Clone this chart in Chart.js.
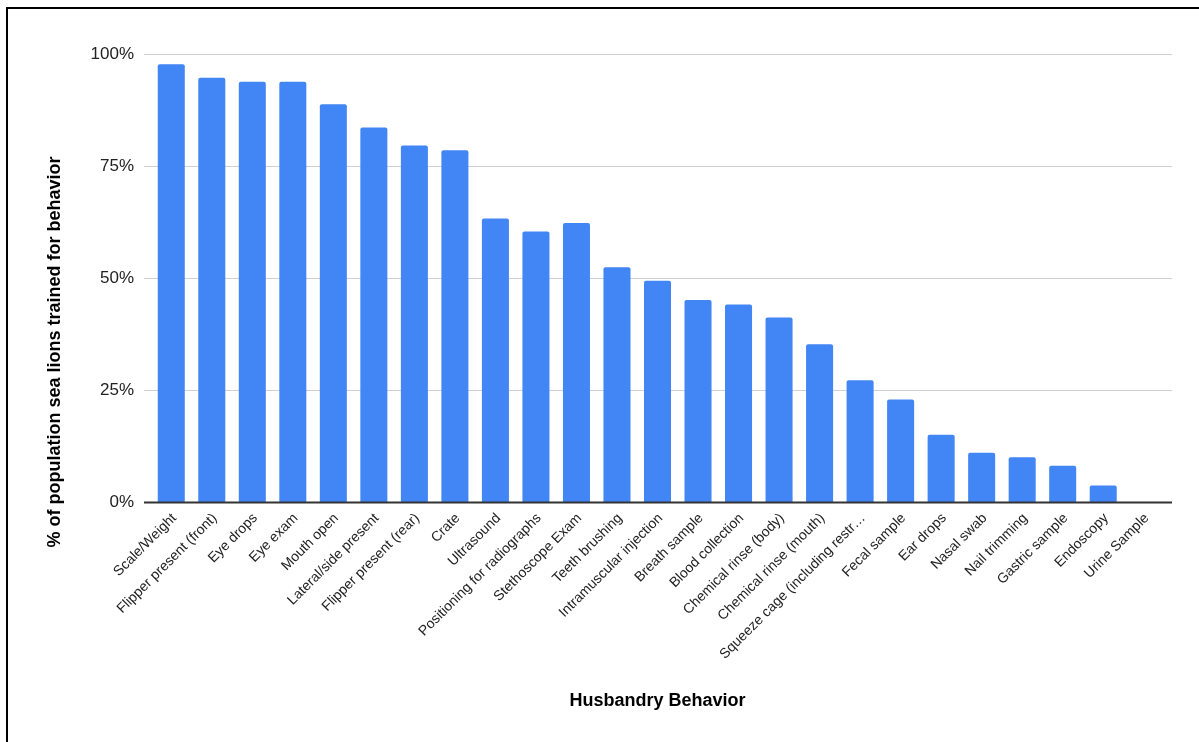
<!DOCTYPE html>
<html>
<head>
<meta charset="utf-8">
<style>
  html, body { margin: 0; padding: 0; background: #fff; }
  #wrap { position: relative; width: 1199px; height: 742px; overflow: hidden; }
  #frame { position: absolute; left: 6px; top: 7px; width: 1300px; height: 800px;
           border-top: 2px solid #000; border-left: 2px solid #000; pointer-events: none; }
  canvas { position: absolute; left: 0; top: 0; }
</style>
<script src="https://cdn.jsdelivr.net/npm/chart.js@4.4.1/dist/chart.umd.min.js"></script>
</head>
<body>
<div id="wrap">
  <canvas id="c" width="1199" height="742"></canvas>
  <div id="frame"></div>
</div>
<script>
const categories = [
  "Scale/Weight", "Flipper present (front)", "Eye drops", "Eye exam", "Mouth open",
  "Lateral/side present", "Flipper present (rear)", "Crate", "Ultrasound",
  "Positioning for radiographs", "Stethoscope Exam", "Teeth brushing",
  "Intramuscular injection", "Breath sample", "Blood collection",
  "Chemical rinse (body)", "Chemical rinse (mouth)", "Squeeze cage (including restr…",
  "Fecal sample", "Ear drops", "Nasal swab", "Nail trimming", "Gastric sample",
  "Endoscopy", "Urine Sample"
];
const percentTrained = [
  97.7, 94.7, 93.8, 93.8, 88.8, 83.6, 79.6, 78.5, 63.3, 60.4, 62.3, 52.4,
  49.4, 45.1, 44.1, 41.2, 35.2, 27.2, 22.9, 15.0, 11.0, 10.0, 8.1, 3.7, 0
];
const yTicks = [0, 25, 50, 75, 100];
const xTitle = "Husbandry Behavior";
const yTitle = "% of population sea lions trained for behavior";

const FONT = "'Liberation Sans', Arial, sans-serif";

const gridPlugin = {
  id: 'extGrid',
  beforeDatasetsDraw(chart) {
    const { ctx, chartArea } = chart;
    const y = chart.scales.y;
    ctx.save();
    yTicks.forEach(v => {
      if (v === 0) return;
      const py = Math.round(y.getPixelForValue(v)) + 0.5;
      ctx.beginPath();
      ctx.strokeStyle = '#d0d0d0';
      ctx.lineWidth = 1;
      ctx.moveTo(chartArea.left - 7, py);
      ctx.lineTo(chartArea.right + 8, py);
      ctx.stroke();
    });
    ctx.restore();
  },
  afterDatasetsDraw(chart) {
    const { ctx, chartArea } = chart;
    const y = chart.scales.y;
    const py = y.getPixelForValue(0);
    ctx.save();
    ctx.strokeStyle = '#333333';
    ctx.lineWidth = 2;
    ctx.beginPath();
    ctx.moveTo(chartArea.left - 7, py + 0.5);
    ctx.lineTo(chartArea.right + 8, py + 0.5);
    ctx.stroke();
    ctx.restore();
  },
  afterDraw(chart) {
    // vertical axis title, centred the way the reference places it
    const { ctx } = chart;
    ctx.save();
    ctx.translate(55, 352);
    ctx.rotate(-Math.PI / 2);
    ctx.font = "bold 18px " + FONT;
    ctx.fillStyle = '#000';
    ctx.textAlign = 'center';
    ctx.textBaseline = 'middle';
    ctx.fillText(yTitle, 0, 0);
    ctx.restore();
  }
};

new Chart(document.getElementById('c'), {
  type: 'bar',
  data: {
    labels: categories,
    datasets: [{
      data: percentTrained,
      backgroundColor: '#4285F4',
      borderRadius: { topLeft: 2, topRight: 2, bottomLeft: 0, bottomRight: 0 },
      borderSkipped: 'bottom',
      barPercentage: 0.667,
      categoryPercentage: 1.0
    }]
  },
  options: {
    responsive: false,
    animation: false,
    devicePixelRatio: 1,
    layout: { padding: { left: 40, right: 35, top: 54, bottom: 30 } },
    plugins: { legend: { display: false }, tooltip: { enabled: false } },
    scales: {
      x: {
        grid: { display: false, drawTicks: false },
        border: { display: false },
        ticks: {
          autoSkip: false, maxRotation: 45, minRotation: 45,
          color: '#222', font: { family: FONT, size: 14 }, padding: 8, labelOffset: 3
        },
        title: { display: true, text: xTitle, color: '#000',
                 font: { family: FONT, size: 18, weight: 'bold' }, padding: 0 },
        afterFit(s) { s.height = 210; }
      },
      y: {
        min: 0, max: 100,
        afterBuildTicks(s) { s.ticks = yTicks.map(v => ({ value: v })); },
        grid: { display: false, drawTicks: false },
        border: { display: false },
        ticks: {
          color: '#222', font: { family: FONT, size: 17 }, padding: 17,
          callback: v => v + '%'
        },
        title: { display: false },
        afterFit(s) { s.width = 111; }
      }
    }
  },
  plugins: [gridPlugin]
});
</script>
</body>
</html>
